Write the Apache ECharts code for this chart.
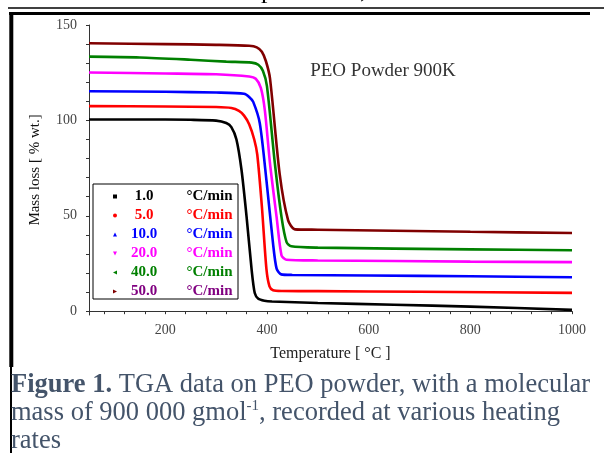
<!DOCTYPE html>
<html>
<head>
<meta charset="utf-8">
<script src="https://cdn.jsdelivr.net/npm/echarts@6/dist/echarts.min.js"></script>
<style>
  html, body { margin: 0; padding: 0; background: #fff; }
  #chart { width: 604px; height: 453px; }
</style>
</head>
<body>
<div id="chart"></div>
<script>
// heating rates shown in the legend
var rates = ['1.0', '5.0', '10.0', '20.0', '40.0', '50.0'];
var lineColors = ['#000000', '#ff0000', '#0000ff', '#ff00ff', '#008000', '#800000'];
var textColors = ['#000000', '#ff0000', '#0000ff', '#ff00ff', '#008000', '#800080'];
var icons = ['rect', 'circle', 'triangle', 'path://M0,0L10,0L5,10Z', 'path://M10,0L10,10L0,5Z', 'path://M0,0L0,10L10,5Z'];

// [temperature (°C), mass (% wt.)]
var rate1 = [[50, 100.5], [150, 100.5], [250, 100.3], [300, 99.9], [320, 98.6], [330, 96.5], [340, 90], [350, 74], [360, 49.3], [370, 21.4], [376, 9.5], [383, 6.5], [395, 5.5], [410, 5.1], [500, 4.3], [650, 3.4], [800, 2.4], [1000, 0.7]];
var rate5 = [[50, 107.5], [200, 107.3], [300, 107], [330, 106.5], [345, 105], [355, 102.5], [365, 98], [375, 90], [381, 82], [390, 55], [399, 22], [405, 13], [412, 11], [430, 10.6], [500, 10.5], [700, 10.2], [1000, 9.6]];
var rate10 = [[50, 115.3], [200, 115], [300, 114.6], [355, 114], [365, 112.3], [373, 109.7], [386, 98.4], [399, 68.6], [412, 35.4], [419, 22.3], [428, 19.3], [450, 19], [600, 18.7], [800, 18.3], [1000, 17.8]];
var rate20 = [[50, 125.1], [200, 124.6], [300, 124.2], [365, 123], [378, 121.8], [388, 117], [396, 105], [406, 77.4], [419, 49.3], [428.7, 29.2], [438, 27], [500, 26.6], [800, 26], [1000, 25.7]];
var rate40 = [[50, 133.4], [150, 133], [250, 131.8], [320, 130.8], [370, 130.3], [383, 129.2], [392, 126], [400, 118], [415.6, 77.4], [428.7, 49.3], [438.6, 36.2], [448, 34], [500, 33.3], [800, 32.4], [1000, 31.9]];
var rate50 = [[50, 140.4], [200, 140], [300, 139.6], [365, 139.1], [380, 138.3], [390, 136], [398, 131], [406, 122], [425, 72], [441.7, 47.6], [455, 42.9], [500, 42.7], [800, 41.6], [1000, 41]];
var curves = [rate1, rate5, rate10, rate20, rate40, rate50];

// axis labels and ticks
var xLabels = [200, 400, 600, 800, 1000];
var xTicks = [80, 120, 160, 200, 240, 280, 320, 360, 400, 440, 480, 520, 560, 600, 640, 680, 720, 760, 800, 840, 880, 920, 960, 1000];
var yLabels = [0, 50, 100, 150];
var yTicks = [0, 10, 20, 30, 40, 50, 60, 70, 80, 90, 100, 110, 120, 130, 140, 150];

var serif = 'Liberation Serif';

function createSeries() {
  return rates.map(function (r, i) {
    return {
      name: r,
      type: 'line',
      data: curves[i],
      symbol: 'none',
      smooth: 0.25,
      lineStyle: { color: lineColors[i], width: 2.6 },
      itemStyle: { color: lineColors[i] },
    };
  });
}

function createOption() {
  var legendFont = { fontFamily: serif, fontWeight: 'bold', fontSize: 15, lineHeight: 15 };
  return {
    animation: false,
    backgroundColor: '#fff',
    title: [
      {
        text: '{b|Figure 1.} TGA data on PEO powder, with a molecular\nmass of 900 000 gmol{sup|-1}, recorded at various heating\nrates',
        left: 11,
        top: 371,
        padding: 0,
        textStyle: {
          fontFamily: serif,
          fontSize: 26.5,
          fontWeight: 'normal',
          color: '#44546a',
          lineHeight: 28,
          rich: {
            b: { fontFamily: serif, fontSize: 26.5, fontWeight: 'bold', color: '#44546a', lineHeight: 28 },
            sup: { fontFamily: serif, fontSize: 15, color: '#44546a', lineHeight: 15, verticalAlign: 'top' },
          },
        },
      },
    ],
    grid: { left: 89, right: 32, top: 25, bottom: 138, containLabel: false, outerBoundsMode: 'none' },
    legend: {
      orient: 'vertical',
      left: 93,
      top: 184,
      padding: [5, 0, 0, 20],
      itemGap: 4,
      itemWidth: 4,
      itemHeight: 4,
      borderColor: '#000',
      borderWidth: 1,
      selectedMode: false,
      data: rates.map(function (r, i) {
        return { name: r, icon: icons[i], textStyle: { color: textColors[i] } };
      }),
      formatter: function (name) {
        return '{n|' + name + '}{s| }{u|°C/min}';
      },
      textStyle: Object.assign({}, legendFont, {
        rich: {
          n: Object.assign({ width: 44, align: 'right' }, legendFont),
          s: Object.assign({ width: 15 }, legendFont),
          u: Object.assign({ width: 57, align: 'left' }, legendFont),
        },
      }),
    },
    xAxis: {
      type: 'value',
      min: 50,
      max: 1000,
      name: 'Temperature [ °C ]',
      nameLocation: 'middle',
      nameGap: 31,
      nameTextStyle: { fontFamily: serif, fontSize: 16, color: '#222' },
      axisLine: { show: true, lineStyle: { color: '#333', width: 1 } },
      axisTick: { show: true, inside: false, length: 3, customValues: xTicks, lineStyle: { color: '#333' } },
      axisLabel: {
        customValues: xLabels,
        margin: 8,
        fontFamily: serif,
        fontSize: 14,
        color: '#444',
        formatter: function (v) {
          return String(v);
        },
      },
      splitLine: { show: false },
    },
    yAxis: {
      type: 'value',
      min: -2,
      max: 150,
      name: 'Mass loss [ % wt.]',
      nameLocation: 'middle',
      nameGap: 46,
      nameTextStyle: { fontFamily: serif, fontSize: 15, color: '#111' },
      axisLine: { show: true, lineStyle: { color: '#333', width: 1 } },
      axisTick: { show: true, inside: false, length: 3, customValues: yTicks, lineStyle: { color: '#333' } },
      axisLabel: { customValues: yLabels, margin: 12, fontFamily: serif, fontSize: 14, color: '#444' },
      splitLine: { show: false },
    },
    graphic: [
      // frame lines from the page around the figure
      { type: 'line', shape: { x1: 8, y1: 8, x2: 604, y2: 8 }, style: { stroke: '#000', lineWidth: 1.5 } },
      { type: 'line', shape: { x1: 9, y1: 13.5, x2: 590, y2: 13.5 }, style: { stroke: '#000', lineWidth: 3 } },
      { type: 'line', shape: { x1: 11.3, y1: 12, x2: 11.3, y2: 367 }, style: { stroke: '#000', lineWidth: 4 } },
      { type: 'line', shape: { x1: 11, y1: 367, x2: 11, y2: 453 }, style: { stroke: '#000', lineWidth: 2 } },
      // cut-off text of the line above
      { type: 'text', left: 261, top: -22, style: { text: 'p', font: '26px "Liberation Serif"', fill: '#000' } },
      { type: 'text', left: 360, top: -22, style: { text: ',', font: '26px "Liberation Serif"', fill: '#000' } },
      // annotation
      {
        type: 'text',
        x: 383,
        y: 71,
        style: { text: 'PEO Powder 900K', font: '19px "Liberation Serif"', fill: '#333', align: 'center', verticalAlign: 'middle' },
      },
    ],
    series: createSeries(),
  };
}

var chart = echarts.init(document.getElementById('chart'));
chart.setOption(createOption());
</script>
</body>
</html>
